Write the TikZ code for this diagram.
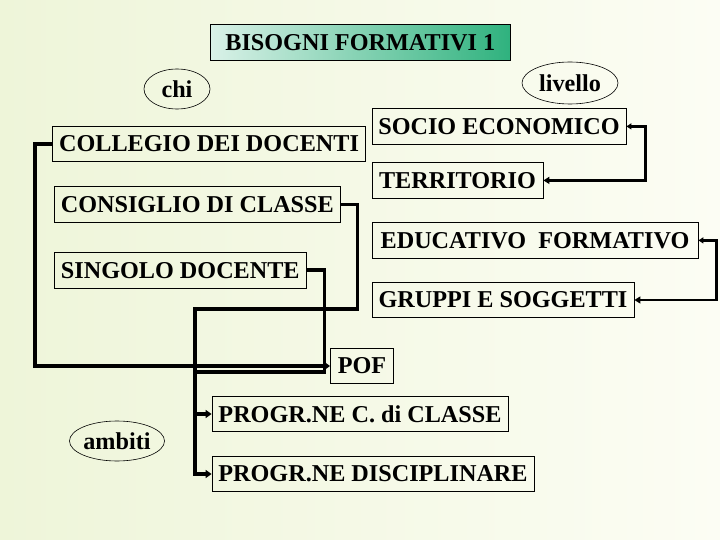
\documentclass[tikz,border=0pt]{standalone}
\usepackage{fontspec}
\setmainfont{Liberation Serif}
\usetikzlibrary{arrows.meta, shapes.geometric}
\definecolor{cpale}{HTML}{EEF5D9}
\definecolor{ccream}{HTML}{FCFDF4}
\definecolor{cgreen}{HTML}{2FB27E}
\tikzset{
  every node/.style={font=\bfseries\fontsize{24.2}{27}\selectfont},
  box/.style={draw, line width=0.8pt, minimum height=35.5pt, inner sep=0pt},
  oval/.style={ellipse, draw, line width=0.6pt, inner sep=0pt},
  link/.style={line width=3.8pt, -{Triangle[length=6pt, width=8pt]}},
  plain/.style={line width=3.8pt},
  pair/.style={line width=2.6pt, {Triangle[length=5pt, width=6pt]}-{Triangle[length=6pt, width=7pt]}},
}

\begin{document}
\begin{tikzpicture}[x=1pt, y=-1pt]
  \shade[left color=cpale, right color=ccream] (0,0) rectangle (720,540);
  \useasboundingbox (0,0) rectangle (720,540);

  \node[box, minimum width=300pt, left color=cgreen!18!white, middle color=white, right color=cgreen] (title) at (360.3,42.5) {BISOGNI FORMATIVI 1};

  \node[oval, minimum width=66pt, minimum height=40pt] (chi) at (177,89) {chi};
  \node[oval, minimum width=96pt, minimum height=42pt] (livello) at (570,83) {livello};
  \node[oval, minimum width=90pt, minimum height=40pt] (ambiti) at (117,441) {ambiti};

  % chi
  \node[box, minimum width=313pt] (collegio) at (209,143.7) {COLLEGIO DEI DOCENTI};
  \node[box, minimum width=285.4pt] (consiglio) at (197.3,204.5) {CONSIGLIO DI CLASSE};
  \node[box, minimum width=251.4pt] (singolo) at (180.3,270.3) {SINGOLO DOCENTE};

  % livello
  \node[box, minimum width=254pt] (socio) at (499,126.4) {SOCIO ECONOMICO};
  \node[box, minimum width=171pt] (terr) at (457.5,180.4) {TERRITORIO};
  \node[box, minimum width=326pt] (edu) at (535,240.4) {EDUCATIVO\ \ FORMATIVO};
  \node[box, minimum width=262pt] (gruppi) at (503,300) {GRUPPI E SOGGETTI};

  % ambiti
  \node[box, minimum width=63pt] (pof) at (362,366) {POF};
  \node[box, minimum width=296pt] (progc) at (360,414) {PROGR.NE C. di CLASSE};
  \node[box, minimum width=322pt] (disc) at (373,474) {PROGR.NE DISCIPLINARE};

  \coordinate (trunk) at (195,309);
  \coordinate (merge) at (195,372);

  \draw[link] (collegio.west) -- ++(-17,0) |- (pof.west);
  \draw[link] (consiglio.east) -- ++(17,0) |- (trunk) |- (disc.west);
  \draw[link] (trunk |- progc.west) -- (progc.west);
  \draw[plain] (singolo.east) -- ++(18,0) |- (merge);

  \draw[pair] (socio.east) -- ++(19,0) |- (terr.east);
  \draw[pair] (edu.east) -- ++(18,0) |- (gruppi.east);
\end{tikzpicture}
\end{document}
